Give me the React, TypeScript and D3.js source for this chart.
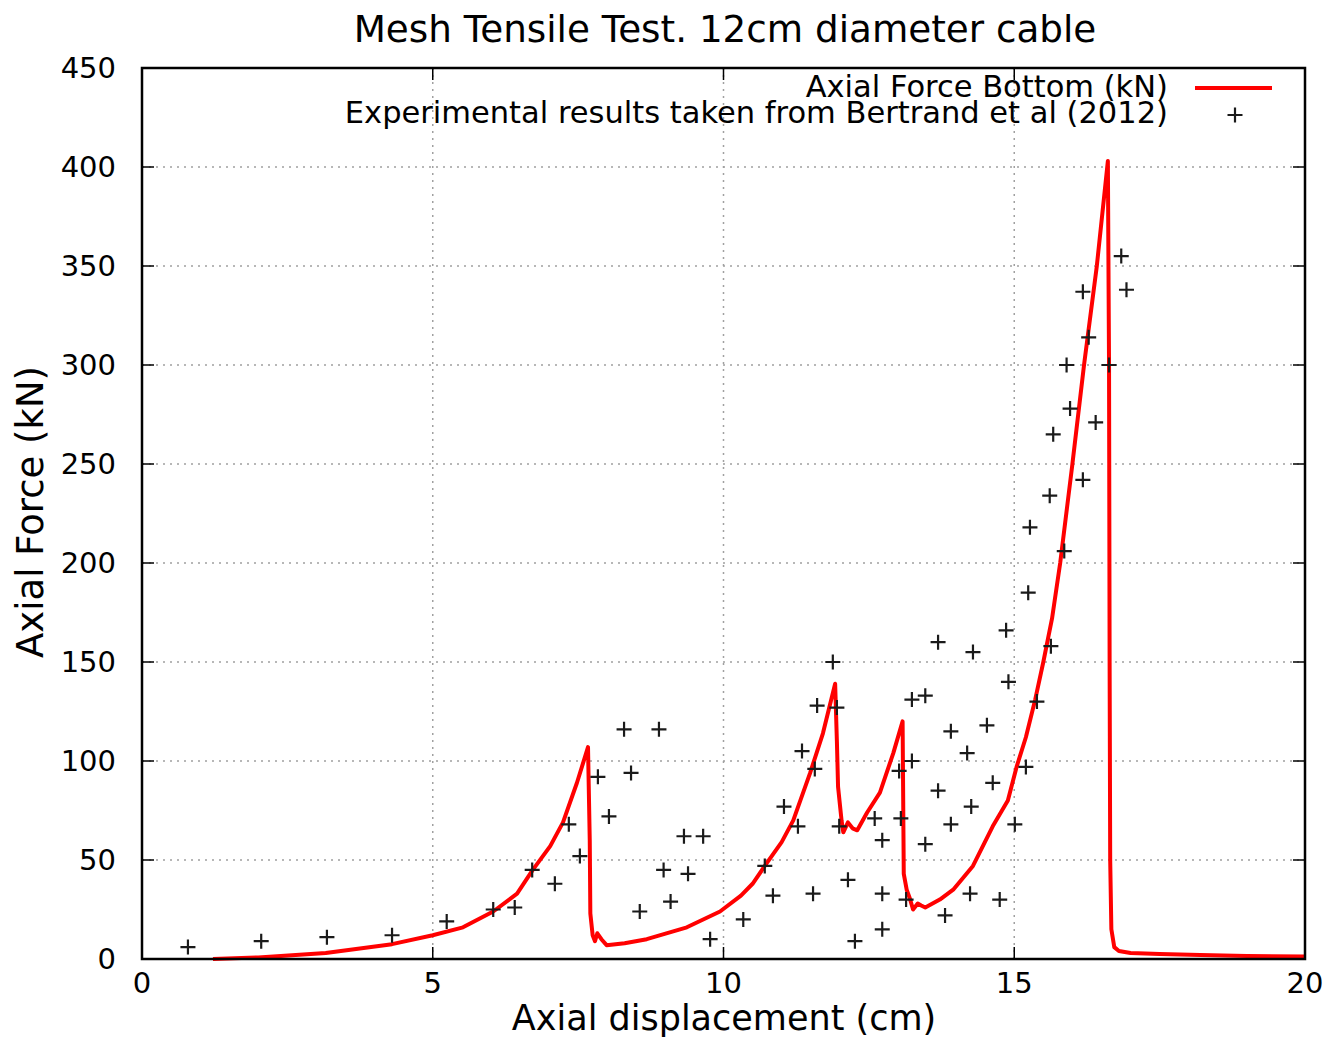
import React from "react";
import * as d3 from "d3";

// simulated axial force (kN) vs axial displacement (cm)
const simX = [
  1.22, 2.0, 3.16, 4.3, 5.0, 5.52, 6.04, 6.45, 6.72, 7.02, 7.24, 7.48, 7.67,
  7.7, 7.71, 7.75, 7.79, 7.83, 7.9, 7.99, 8.3, 8.68, 9.37, 9.94, 10.3, 10.5,
  10.71, 11.0, 11.2, 11.49, 11.71, 11.92, 11.95, 11.97, 12.03, 12.06, 12.14,
  12.22, 12.3, 12.47, 12.69, 12.92, 13.08, 13.1, 13.15, 13.2, 13.26, 13.34,
  13.4, 13.47, 13.72, 13.95, 14.29, 14.63, 14.89, 15.04, 15.2, 15.36, 15.5,
  15.65, 15.79, 16.0, 16.2, 16.42, 16.61, 16.63, 16.64, 16.65, 16.67, 16.72,
  16.8, 17.0, 17.5, 18.2, 19.0, 20.0,
];
const simY = [
  0, 0.8, 3, 7.5, 12, 16, 24, 33, 45, 57, 69, 89, 107,
  60, 23, 12, 9, 13, 10, 7, 8, 10, 16, 24, 32, 38,
  47, 59, 70, 94, 114, 139, 110, 87, 70, 64, 69,
  66, 65, 74, 84, 104, 120, 43, 35, 31, 25, 28,
  27, 26, 30, 35, 47, 67, 80, 97, 112, 131, 150,
  172, 200, 250, 300, 350, 403, 300, 150, 50, 15, 6,
  4, 3, 2.5, 2, 1.5, 1.2,
];

// experimental points (Bertrand et al 2012)
const expX = [
  0.79, 2.05, 3.18, 4.3, 5.24, 6.04, 6.41, 6.71, 7.1, 7.34, 7.53, 7.84, 8.03,
  8.29, 8.41, 8.56, 8.89, 8.97, 9.09, 9.32, 9.39, 9.65, 9.77, 10.34, 10.71,
  10.85, 11.04, 11.28, 11.35, 11.54, 11.57, 11.61, 11.88, 11.95, 11.99, 12.14,
  12.26, 12.6, 12.73, 12.73, 12.73, 13.02, 13.05, 13.14, 13.24, 13.24, 13.47,
  13.47, 13.69, 13.69, 13.81, 13.91, 13.91, 14.19, 14.29, 14.26, 14.24, 14.53,
  14.63, 14.75, 14.86, 14.9, 15.01, 15.2, 15.24, 15.27, 15.39, 15.63, 15.61,
  15.67, 15.86, 15.9, 15.96, 16.18, 16.18, 16.28, 16.4, 16.63, 16.84, 16.93,
];
const expY = [
  6, 9, 11, 12, 19, 25, 26, 45, 38, 68, 52, 92, 72,
  116, 94, 24, 116, 45, 29, 62, 43, 62, 10, 20, 47,
  32, 77, 67, 105, 33, 96, 128, 150, 127, 67, 40,
  9, 71, 60, 33, 15, 95, 71, 30, 100, 131, 133,
  58, 160, 85, 22, 115, 68, 104, 155, 77, 33, 118,
  89, 30, 166, 140, 68, 97, 185, 218, 130, 158, 234,
  265, 206, 300, 278, 337, 242, 314, 271, 300, 355, 338,
];

const xTicks = [0, 5, 10, 15, 20];
const yTicks = [0, 50, 100, 150, 200, 250, 300, 350, 400, 450];

const W = 1335;
const H = 1038;
const m = { left: 142, right: 1305, top: 68, bottom: 959 };
const font = "DejaVu Sans, sans-serif";

export default function App() {
  const x = d3.scaleLinear().domain([0, 20]).range([m.left, m.right]);
  const y = d3.scaleLinear().domain([0, 450]).range([m.bottom, m.top]);

  const line = d3
    .line<number>()
    .x((d, i) => x(simX[i]))
    .y((d) => y(d));

  const plus = (cx: number, cy: number, k: string | number) => (
    <path
      key={k}
      d={`M${cx - 7.5},${cy}H${cx + 7.5}M${cx},${cy - 7.5}V${cy + 7.5}`}
      stroke="#1a1a1a"
      strokeWidth={2.2}
    />
  );

  return (
    <svg
      width={W}
      height={H}
      style={{ position: "absolute", left: 0, top: 0, background: "#fff" }}
      fontFamily={font}
    >
      {/* grid */}
      {yTicks.slice(1, -1).map((t) => (
        <line key={"gy" + t} x1={m.left} x2={m.right} y1={y(t)} y2={y(t)}
          stroke="#a0a0a0" strokeWidth={1.5} strokeDasharray="2,5" />
      ))}
      {xTicks.slice(1, -1).map((t) => (
        <line key={"gx" + t} x1={x(t)} x2={x(t)} y1={m.top} y2={m.bottom}
          stroke="#a0a0a0" strokeWidth={1.5} strokeDasharray="2,5" />
      ))}

      {/* ticks (mirrored) */}
      {yTicks.map((t) => (
        <g key={"ty" + t} stroke="#000" strokeWidth={1.5}>
          <line x1={m.left} x2={m.left + 12} y1={y(t)} y2={y(t)} />
          <line x1={m.right} x2={m.right - 12} y1={y(t)} y2={y(t)} />
        </g>
      ))}
      {xTicks.map((t) => (
        <g key={"tx" + t} stroke="#000" strokeWidth={1.5}>
          <line x1={x(t)} x2={x(t)} y1={m.bottom} y2={m.bottom - 12} />
          <line x1={x(t)} x2={x(t)} y1={m.top} y2={m.top + 12} />
        </g>
      ))}

      {/* tick labels */}
      {yTicks.map((t) => (
        <text key={"ly" + t} x={116} y={y(t)} dy="0.36em" textAnchor="end"
          fontSize={29} fill="#000">{t}</text>
      ))}
      {xTicks.map((t) => (
        <text key={"lx" + t} x={x(t)} y={993} textAnchor="middle"
          fontSize={29} fill="#000">{t}</text>
      ))}

      {/* data */}
      <path d={line(simY) || ""} fill="none" stroke="#ff0000" strokeWidth={4}
        strokeLinejoin="round" />
      {expX.map((v, i) => plus(x(v), y(expY[i]), i))}

      {/* border */}
      <rect x={m.left} y={m.top} width={m.right - m.left} height={m.bottom - m.top}
        fill="none" stroke="#000" strokeWidth={2.5} />

      {/* legend */}
      <text x={1168} y={97} textAnchor="end" fontSize={30.5} fill="#000">
        Axial Force Bottom (kN)
      </text>
      <line x1={1195} x2={1272} y1={88} y2={88} stroke="#ff0000" strokeWidth={4} />
      <text x={1168} y={123} textAnchor="end" fontSize={30.5} fill="#000">
        Experimental results taken from Bertrand et al (2012)
      </text>
      {plus(1235, 115, "leg")}

      {/* titles */}
      <text x={725} y={42} textAnchor="middle" fontSize={37.3} fill="#000">
        Mesh Tensile Test. 12cm diameter cable
      </text>
      <text x={724} y={1030} textAnchor="middle" fontSize={35} fill="#000">
        Axial displacement (cm)
      </text>
      <text transform="translate(43,512) rotate(-90)" textAnchor="middle"
        fontSize={37} fill="#000">
        Axial Force (kN)
      </text>
    </svg>
  );
}
